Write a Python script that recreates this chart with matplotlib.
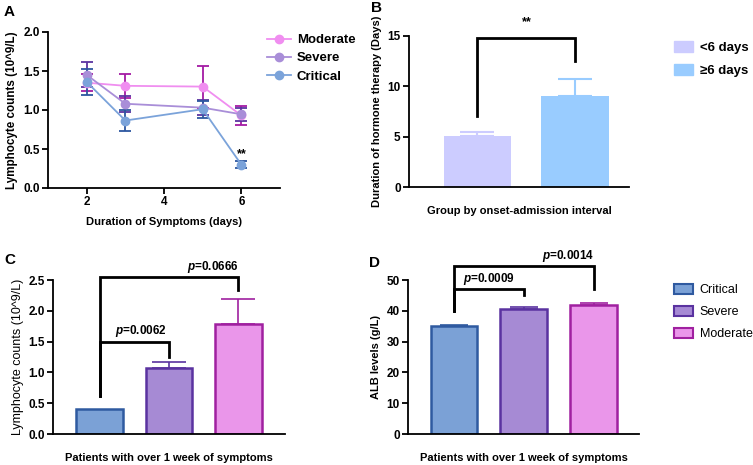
import matplotlib
matplotlib.use("Agg")
import matplotlib.pyplot as plt
from matplotlib.lines import Line2D
from matplotlib.patches import Patch

plt.rcParams['font.family'] = ['Liberation Sans', 'DejaVu Sans']
plt.rcParams['font.weight'] = 'bold'
plt.rcParams['mathtext.fontset'] = 'custom'
plt.rcParams['mathtext.it'] = 'Liberation Sans:italic:bold'
plt.rcParams['mathtext.rm'] = 'Liberation Sans:bold'

# panel A - lymphocyte counts over symptom duration
days = [2, 3, 5, 6]
moderate_mean = [1.35, 1.31, 1.30, 0.93]
moderate_sem = [0.11, 0.15, 0.27, 0.12]
severe_mean = [1.45, 1.08, 1.03, 0.945]
severe_sem = [0.16, 0.10, 0.10, 0.08]
critical_mean = [1.36, 0.865, 1.01, 0.30]
critical_sem = [0.17, 0.14, 0.11, 0.04]

# panel B - hormone therapy duration
b_groups = ["<6 days", "\u22656 days"]
b_mean = [5.08, 9.07]
b_err = [0.35, 1.68]

# panel C / D - patients with over 1 week of symptoms
cd_groups = ["Critical", "Severe", "Moderate"]
c_mean = [0.41, 1.07, 1.79]
c_err = [0.0, 0.10, 0.40]
d_mean = [35.2, 40.7, 41.8]
d_err = [0.3, 0.5, 0.6]

pink, pink_dk = '#f08ef0', '#a41aa4'
purple, purple_dk = '#a98ed8', '#5a34a0'
blue, blue_dk = '#7ba3da', '#2d57a0'
b_colors = ['#ccccff', '#99ccff']
bar_fill = ['#7ba1d6', '#a68ad4', '#ea96ea']
bar_edge = ['#2f5aa0', '#5a32a0', '#a020a0']

W, H = 753, 465
fig = plt.figure(figsize=(W / 100, H / 100), dpi=100)


def ax_px(left, top, right, bottom):
    return fig.add_axes([left / W, 1 - bottom / H, (right - left) / W, (bottom - top) / H])


def style(ax):
    for s in ['top', 'right']:
        ax.spines[s].set_visible(False)
    for s in ['left', 'bottom']:
        ax.spines[s].set_linewidth(1.3)
    ax.tick_params(width=1.3, length=4, labelsize=8.5, pad=2)
    for lab in ax.get_xticklabels() + ax.get_yticklabels():
        lab.set_fontweight('bold')


def bracket(ax, x1, x2, y, y1, y2):
    ax.plot([x1, x1, x2, x2], [y1, y, y, y2], color='black', lw=2, clip_on=False,
            solid_joinstyle='miter')


# ---- A
axA = ax_px(48, 32, 280, 188)
series = [("Moderate", moderate_mean, moderate_sem, pink, pink_dk),
          ("Severe", severe_mean, severe_sem, purple, purple_dk),
          ("Critical", critical_mean, critical_sem, blue, blue_dk)]
handles = []
for name, m, e, c, cd in series:
    axA.errorbar(days, m, yerr=e, fmt='none', ecolor=cd, elinewidth=1.3, capsize=4, capthick=1.3, zorder=2)
    axA.plot(days, m, '-o', color=c, lw=1.3, ms=6, zorder=3)
    handles.append(Line2D([], [], color=c, marker='o', lw=1.3, ms=6, label=name))
axA.set_xlim(1, 7)
axA.set_ylim(0, 2.0)
axA.set_xticks([2, 4, 6])
axA.set_yticks([0, 0.5, 1.0, 1.5, 2.0])
axA.set_yticklabels(['0.0', '0.5', '1.0', '1.5', '2.0'])
axA.text(6, critical_mean[3] + 0.06, "**", ha='center', va='bottom', fontsize=9, fontweight='bold')
axA.set_xlabel("Duration of Symptoms (days)", fontsize=8, fontweight='bold', labelpad=6)
axA.set_ylabel("Lymphocyte counts (10^9/L)", fontsize=8.4, fontweight='bold', labelpad=4)
style(axA)
fig.legend(handles=handles, loc='upper left', bbox_to_anchor=(267 / W, 1 - 34 / H), frameon=False,
           borderpad=0, borderaxespad=0,
           prop={'size': 9.5, 'weight': 'bold'}, handlelength=1.8, labelspacing=0.45, handletextpad=0.45)

# ---- B
axB = ax_px(409, 36, 629, 187)
bx = [0, 1]
axB.bar(bx, b_mean, width=0.69, color=b_colors, zorder=2)
for i in bx:
    axB.errorbar(i, b_mean[i], yerr=[[0], [b_err[i]]], fmt='none', ecolor=b_colors[i],
                 elinewidth=1.5, capsize=12, capthick=1.5, zorder=1)
axB.set_xlim(-0.70, 1.55)
axB.set_ylim(0, 15)
axB.set_xticks([])
axB.set_yticks([0, 5, 10, 15])
bracket(axB, 0, 1, 14.85, 7.1, 12.5)
axB.text(0.5, 15.8, "**", ha='center', va='bottom', fontsize=9)
axB.set_xlabel("Group by onset-admission interval", fontsize=8, fontweight='bold', labelpad=14)
axB.set_ylabel("Duration of hormone therapy (Days)", fontsize=8, fontweight='bold')
style(axB)
fig.legend(handles=[Patch(color=b_colors[0], label=b_groups[0]), Patch(color=b_colors[1], label=b_groups[1])],
           loc='upper left', bbox_to_anchor=(674 / W, 1 - 41 / H), frameon=False,
           borderpad=0, borderaxespad=0,
           prop={'size': 9.5, 'weight': 'bold'}, handlelength=1.45, handleheight=0.9,
           labelspacing=0.75, handletextpad=0.5)

# ---- C
axC = ax_px(53, 280, 285, 434)
cx = [0, 1, 2]
axC.bar(cx, c_mean, width=0.67, color=bar_fill, edgecolor=bar_edge, linewidth=1.8, zorder=2)
for i in cx:
    if c_err[i] > 0:
        axC.errorbar(i, c_mean[i], yerr=[[0], [c_err[i]]], fmt='none', ecolor=bar_edge[i],
                     elinewidth=1.2, capsize=12, capthick=1.2, zorder=1)
axC.set_xlim(-0.67, 2.67)
axC.set_ylim(0, 2.5)
axC.set_xticks([])
axC.set_yticks([0, 0.5, 1.0, 1.5, 2.0, 2.5])
axC.set_yticklabels(['0.0', '0.5', '1.0', '1.5', '2.0', '2.5'])
bracket(axC, 0, 1, 1.50, 0.61, 1.25)
bracket(axC, 0, 2, 2.55, 0.61, 2.34)
axC.text(0.59, 1.55, r"$\mathit{p}$=0.0062", ha='center', va='bottom', fontsize=8.5)
axC.text(2.0, 2.58, r"$\mathit{p}$=0.0666", ha='right', va='bottom', fontsize=8.5, clip_on=False)
axC.set_xlabel("Patients with over 1 week of symptoms", fontsize=8, fontweight='bold', labelpad=14)
axC.set_ylabel("Lymphocyte counts (10^9/L)", fontsize=9, fontweight='normal', labelpad=3)
style(axC)

# ---- D
axD = ax_px(408, 280, 639, 434)
axD.bar(cx, d_mean, width=0.67, color=bar_fill, edgecolor=bar_edge, linewidth=1.8, zorder=2)
for i in cx:
    axD.errorbar(i, d_mean[i], yerr=[[0], [d_err[i]]], fmt='none', ecolor=bar_edge[i],
                 elinewidth=1.2, capsize=10, capthick=1.2, zorder=1)
axD.set_xlim(-0.66, 2.65)
axD.set_ylim(0, 50)
axD.set_xticks([])
axD.set_yticks([0, 10, 20, 30, 40, 50])
bracket(axD, 0, 1, 47.0, 39.9, 45.1)
bracket(axD, 0, 2, 54.5, 39.9, 47.0)
axD.text(0.5, 47.8, r"$\mathit{p}$=0.0009", ha='center', va='bottom', fontsize=8.5)
axD.text(2.0, 55.3, r"$\mathit{p}$=0.0014", ha='right', va='bottom', fontsize=8.5, clip_on=False)
axD.set_xlabel("Patients with over 1 week of symptoms", fontsize=8, fontweight='bold', labelpad=14)
axD.set_ylabel("ALB levels (g/L)", fontsize=8, fontweight='bold')
style(axD)
fig.legend(handles=[Patch(facecolor=bar_fill[i], edgecolor=bar_edge[i], linewidth=1.5, label=cd_groups[i])
                    for i in cx],
           loc='upper left', bbox_to_anchor=(674 / W, 1 - 284 / H), frameon=False,
           borderpad=0, borderaxespad=0,
           prop={'size': 9, 'weight': 'normal'}, handlelength=1.5, handleheight=0.8,
           labelspacing=0.8, handletextpad=0.55)

# panel letters
for lab, x, y in [("A", 4, 12), ("B", 371, 8), ("C", 4, 260), ("D", 369, 263)]:
    fig.text(x / W, 1 - y / H, lab, fontsize=11, fontweight='bold', ha='left', va='center')

fig.savefig("out.png", dpi=100)
